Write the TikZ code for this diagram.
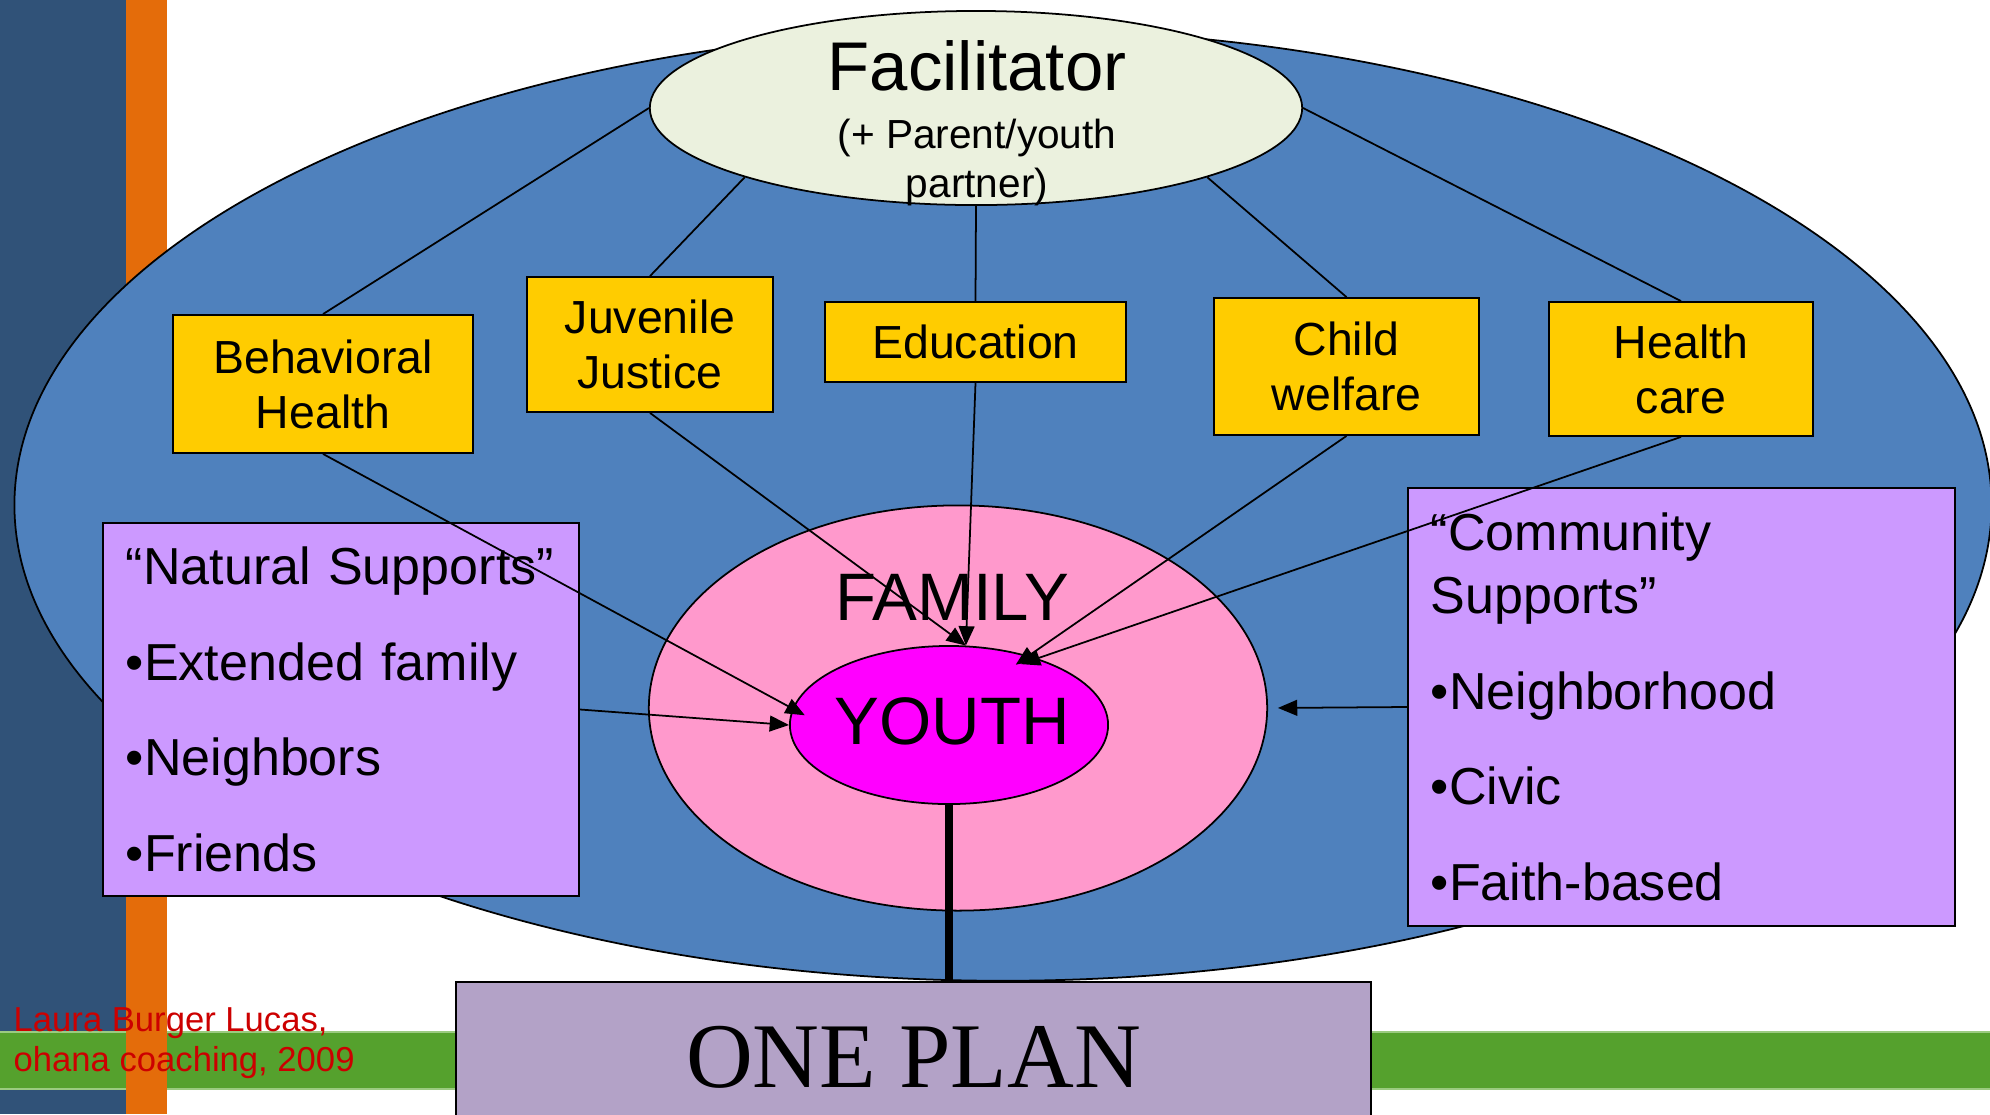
\documentclass[tikz,border=0pt]{standalone}
\usepackage{fontspec}
\setmainfont{Liberation Sans}
\newfontfamily\planfont{Liberation Serif}
\usetikzlibrary{shapes,arrows.meta,calc,positioning}
\definecolor{sidebar}{HTML}{305278}
\definecolor{sideorange}{HTML}{E46C0A}
\definecolor{bandgreen}{HTML}{55A12D}
\definecolor{bandedge}{HTML}{9BCB80}
\definecolor{systemblue}{HTML}{4F81BD}
\definecolor{facfill}{HTML}{EBF1DE}
\definecolor{agencyyellow}{HTML}{FFCC00}
\definecolor{supportlilac}{HTML}{CC99FF}
\definecolor{familypink}{HTML}{FF99CC}
\definecolor{youthmagenta}{HTML}{FF00FF}
\definecolor{planlilac}{HTML}{B3A2C7}
\definecolor{creditred}{HTML}{CC0000}
\tikzset{
    agency/.style = {draw, rectangle, fill=agencyyellow,
        line width=0.5pt, inner sep=0pt, align=center,
        font=\fontsize{13.2}{15.65}\selectfont},
    support/.style = {draw, rectangle, fill=supportlilac,
        line width=0.5pt, inner xsep=0.23cm, inner ysep=0pt, align=left,
        font=\fontsize{14.8}{17.8}\selectfont},
    circ/.style = {draw, ellipse, line width=0.5pt, inner sep=0pt},
    spoke/.style = {draw, line width=0.5pt},
    feed/.style = {draw, line width=0.5pt, -{Triangle[length=5.5pt,width=4.5pt]}}
}

\begin{document}
\begin{tikzpicture}[x=0.01cm, y=-0.01cm]
        \useasboundingbox (0,0) rectangle (1990,1114);
        \clip (0,0) rectangle (1990,1114);
        \fill [sidebar] (0,0) rectangle (126,1114);
        \fill [bandgreen] (0,1032) rectangle (1990,1089);
        \draw [bandedge, line width=0.6pt] (0,1032) -- (1990,1032) (0,1089) -- (1990,1089);
        \fill [sideorange] (126,0) rectangle (167,1114);
        \node [circ, fill=systemblue, minimum width=19.76cm, minimum height=9.51cm] (system) at (1003,505) {};
        \node [circ, fill=facfill, minimum width=6.52cm, minimum height=1.94cm] (fac) at (976,108) {};
        \node [anchor=base, inner sep=0pt, font=\fontsize{19.6}{23}\selectfont] (factitle) at (977,90.6) {Facilitator};
        \node [anchor=north, inner sep=0pt, align=center, font=\fontsize{11.55}{13.8}\selectfont] (facsub) at (977,118.4) {(+ Parent/youth\\partner)};
        \node [agency, minimum width=3cm, minimum height=1.38cm] (bh) at (323,384) {Behavioral\\Health};
        \node [agency, minimum width=2.46cm, minimum height=1.35cm] (jj) at (650,344.5) {Juvenile\\Justice};
        \node [agency, minimum width=3.01cm, minimum height=0.8cm] (edu) at (975.5,342) {Education};
        \node [agency, minimum width=2.65cm, minimum height=1.37cm] (cw) at (1346.5,366.5) {Child\\welfare};
        \node [agency, minimum width=2.64cm, minimum height=1.34cm] (hc) at (1681,369) {Health\\care};
        \draw [spoke] (fac.west) -- (bh.north);
        \draw [spoke] (fac.south west) -- (jj.north);
        \draw [spoke] (fac.south) -- (edu.north);
        \draw [spoke] (fac.south east) -- (cw.north);
        \draw [spoke] (fac.east) -- (hc.north);
        \node [circ, fill=familypink, minimum width=6.18cm, minimum height=4.05cm] (fam) at (958,708) {};
        \node [anchor=base, inner sep=0pt, font=\fontsize{19.1}{23}\selectfont] (famtitle) at (952,620) {FAMILY};
        \node [circ, fill=youthmagenta, minimum width=3.18cm, minimum height=1.58cm] (youth) at (949,725) {};
        \node [anchor=base, inner sep=0pt, font=\fontsize{19.1}{23}\selectfont] (youthtitle) at (952,744) {YOUTH};
        \node [support, text width=4.3cm, minimum height=3.73cm] (ns) at (341,709.5)
            {“Natural~Supports”\\[9.4pt]•Extended family\\[9.4pt]•Neighbors\\[9.4pt]•Friends};
        \node [support, text width=5.01cm, minimum height=4.38cm] (cs) at (1681.5,707)
            {“Community\\Supports”\\[9.4pt]•Neighborhood\\[9.4pt]•Civic\\[9.4pt]•Faith-based};
        \node [draw, fill=planlilac, line width=0.5pt, minimum width=9.15cm, minimum height=1.5cm,
            anchor=north, font=\planfont\fontsize{26.3}{30}\selectfont] (plan) at (913.5,981) {ONE PLAN};
        \draw [feed, shorten >=-4pt] (bh.south) -- (youth.174);
        \draw [feed] (ns.east) -- (youth.west);
        \draw [feed] (jj.south) -- (youth.78);
        \draw [feed] (edu.south) -- (youth.78);
        \draw [feed, shorten >=-4.5pt] (cw.south) -- (youth.41);
        \draw [feed, shorten >=-5pt] (hc.south) -- (youth.37);
        \draw [feed, shorten >=2.8pt] (cs.west) -- (fam.east);
        \draw [line width=2.2pt] (youth.south) -- (youth.south |- plan.north);
        \node [anchor=north west, inner sep=0pt, align=left, text=creditred,
            font=\fontsize{9.85}{11.4}\selectfont] (credit) at (13,1007) {Laura Burger Lucas,\\ohana coaching, 2009};
\end{tikzpicture}
\end{document}
